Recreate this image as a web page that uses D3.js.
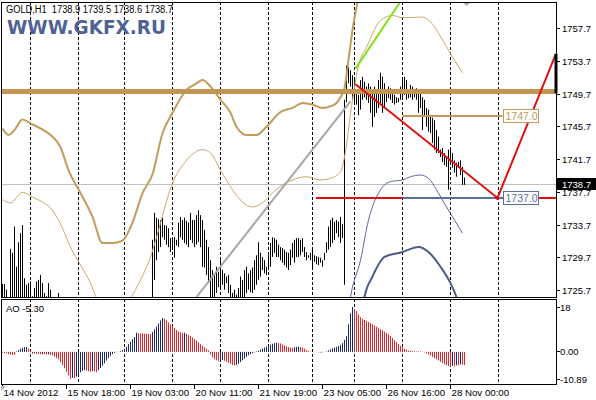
<!DOCTYPE html>
<html lang="en">
<head>
<meta charset="UTF-8">
<title>GOLD,H1</title>
<script src="https://d3js.org/d3.v7.min.js"></script>
<style>
  body { margin: 0; background: #fff; }
  svg text { font-family: "Liberation Sans", Arial, sans-serif; font-size: 10px; fill: #000; }
</style>
</head>
<body>
<svg id="chart" width="596" height="400"></svg>
<script>
// price bars (H1), one per 2px, left to right
const barHigh = [
  1726.5,1726.5,1725.8,1724.6,1730.8,1730.3,1733.5,1728.6,1731.6,1732.7,1733.7,1727.2,1726.4,1726.6,1726.8,1725.0,1726.0,1726.8,1727.0,1727.6,
  1726.6,1725.4,1725.0,1726.6,1725.8,1724.5,1724.2,1724.6,1725.4,
  1724.1,1723.6,1722.9,1722.2,1721.5,1720.8,1720.1,1719.6,1719.9,1720.4,1720.0,1719.5,1719.2,1719.8,1720.3,1720.9,1721.4,1720.7,1720.2,1719.8,
  1720.5,1721.1,1721.6,1721.2,1720.8,1721.3,1721.9,1722.4,1722.0,1721.5,1721.1,1721.7,1722.3,1722.8,1723.2,1722.7,1722.1,1722.6,1723.1,1723.5,
  1723.0,1722.5,1723.2,1723.8,1724.2,1724.4,
  1731.9,1735.2,1734.6,1734.4,1734.3,1734.6,1733.7,1733.6,1733.3,1732.1,1731.9,1732.2,1731.9,1734.0,1734.7,1734.3,1734.6,1734.2,1734.0,1735.2,
  1734.3,1734.3,1734.9,1735.5,1734.9,1734.3,1733.1,1731.9,1731.0,1729.4,1728.2,1727.8,1728.6,1728.0,1729.4,1728.2,1727.8,1727.4,1727.6,1726.4,
  1725.4,1725.8,1725.2,1726.0,1727.4,1727.0,1728.2,1728.6,1727.8,1728.2,1728.5,1729.4,1730.0,1731.6,1730.3,1729.8,1729.4,1728.6,1730.0,1731.5,
  1732.2,1732.1,1731.9,1731.3,1731.0,1730.9,1730.7,1730.4,1730.3,1730.7,1731.5,1731.9,1732.1,1732.1,1731.9,1732.1,1731.0,1730.4,1730.0,1730.3,
  1730.7,1730.0,1729.9,1729.8,1729.7,1729.4,1730.3,1731.6,1733.5,1734.3,1734.6,1734.1,1734.3,1734.1,1734.7,1733.8,1749.0,
  1753.2,1753.0,1752.6,1752.0,1751.4,1750.2,1749.6,1751.4,1751.8,1751.2,1750.6,1751.0,1750.6,1749.8,1750.6,1749.8,1751.4,1752.3,1751.8,1751.0,
  1749.9,1750.6,1750.4,1749.8,1749.6,1749.3,1749.2,1750.6,1751.7,1751.8,1751.4,1750.2,1750.8,1750.6,1750.2,1750.4,1750.2,1750.2,1749.3,1749.0,
  1748.0,1747.8,1746.9,1746.8,1746.5,1745.3,1744.5,1742.9,1743.1,1742.5,1742.0,1742.9,1742.9,1742.5,1741.6,1741.3,1741.4,1741.6,1740.8,1739.5
];
const barLow = [
  1722.1,1721.8,1722.4,1721.5,1722.0,1723.1,1722.6,1721.9,1722.8,1723.4,1721.7,1721.2,1722.3,1721.6,1722.0,1721.4,1720.8,1721.5,1722.1,1721.0,
  1720.6,1721.3,1720.9,1721.8,1722.2,1721.1,1720.5,1720.2,1720.9,
  1722.6,1722.0,1721.3,1720.7,1720.0,1719.4,1718.7,1718.2,1718.5,1718.9,1718.6,1718.1,1717.8,1718.3,1718.9,1719.4,1719.9,1719.3,1718.8,1718.4,
  1719.0,1719.6,1720.1,1719.8,1719.4,1719.8,1720.4,1720.9,1720.6,1720.1,1719.7,1720.2,1720.8,1721.3,1721.7,1721.2,1720.7,1721.1,1721.6,1722.0,
  1721.6,1721.1,1721.7,1722.3,1722.7,1722.9,
  1724.8,1727.0,1729.4,1730.4,1731.0,1732.2,1731.9,1731.3,1731.0,1730.4,1730.7,1729.7,1731.2,1731.0,1732.2,1731.9,1731.5,1731.3,1731.0,1731.9,
  1731.5,1731.0,1731.3,1731.6,1731.0,1728.6,1728.5,1727.6,1726.6,1724.8,1724.8,1724.8,1725.4,1726.1,1726.0,1726.4,1725.8,1726.6,1725.4,1724.8,
  1724.6,1724.6,1724.5,1724.6,1724.6,1724.6,1724.6,1725.4,1725.8,1725.5,1725.4,1725.8,1726.4,1727.0,1727.4,1728.2,1727.8,1727.6,1728.2,1728.6,
  1729.8,1730.3,1729.8,1729.8,1729.4,1729.1,1728.8,1728.5,1728.2,1728.8,1729.7,1729.1,1729.8,1729.8,1730.0,1730.4,1729.8,1729.4,1729.7,1729.4,
  1728.2,1729.2,1728.9,1728.8,1729.1,1728.6,1729.4,1730.3,1730.7,1731.0,1731.5,1731.9,1732.7,1732.2,1731.5,1732.1,1726.4,
  1748.7,1751.0,1750.6,1749.0,1748.7,1748.4,1747.1,1747.8,1749.0,1749.3,1749.0,1748.6,1747.4,1745.7,1746.9,1747.4,1748.0,1748.6,1747.4,1748.1,
  1748.7,1749.2,1749.0,1748.6,1748.4,1748.6,1748.7,1749.0,1749.3,1749.6,1749.0,1749.2,1749.3,1749.0,1749.3,1749.0,1747.4,1748.0,1745.3,1746.9,
  1745.7,1745.1,1744.9,1743.7,1742.9,1742.5,1742.5,1742.0,1741.4,1741.0,1740.8,1738.0,1741.0,1740.7,1740.1,1739.6,1740.7,1739.8,1738.6,1738.6
];

// Awesome Oscillator, one value per bar
const aoValues = [
  -0.3,-0.5,-0.6,-0.9,-1.1,-1.2,-1.25,0.2,0.7,1.2,1.6,1.9,2.0,1.4,0.5,-0.7,-0.6,-0.8,-0.9,-1.0,
  -0.9,-1.0,-1.1,-1.0,-1.2,-1.4,-1.9,-2.5,-3.0,-4.1,-5.3,-6.6,-8.0,-9.5,-10.89,-10.4,-10.6,-9.9,-9.0,-8.2,
  -7.6,-7.3,-7.5,-7.8,-8.0,-7.6,-7.9,-8.2,-7.4,-6.5,-5.6,-4.6,-3.5,-2.5,-1.6,-0.9,-0.4,-0.1,0.1,0.3,
  0.7,1.3,2.1,3.1,4.1,5.1,5.9,7.7,7.5,7.4,7.4,7.3,7.3,7.2,7.2,8.0,9.0,10.2,11.4,12.6,
  13.6,13.3,12.6,11.8,11.0,10.2,9.5,8.8,8.2,7.9,7.6,7.7,7.3,6.8,6.3,5.7,5.1,4.5,3.8,3.1,
  2.5,1.8,1.2,0.6,-1.0,-2.2,-3.0,-3.4,-3.6,-3.5,-3.3,-3.6,-4.0,-4.4,-4.8,-5.2,-5.5,-5.3,-4.8,-4.1,
  -3.4,-2.7,-2.0,-1.4,-0.9,-0.5,-0.2,0.2,0.5,0.9,1.3,1.7,2.1,2.5,2.9,3.2,3.5,3.7,3.6,3.4,
  3.0,2.6,2.2,1.9,1.7,1.6,1.8,2.0,2.1,2.0,1.7,1.3,0.8,0.4,0.1,0.0,0.0,-0.1,-0.2,-0.3,
  -0.2,0.0,0.2,0.6,1.0,1.4,1.7,2.0,2.3,2.8,3.5,4.8,6.3,11.0,15.5,18.0,17.3,16.4,15.0,13.9,
  13.2,12.8,12.4,12.0,11.6,11.1,10.6,10.1,9.6,9.1,8.6,8.1,7.6,7.0,6.3,5.5,4.7,3.9,3.1,2.4,
  1.8,1.3,0.9,0.6,0.45,0.35,0.3,0.25,0.2,0.15,0.1,-0.2,-0.6,-1.0,-1.5,-2.0,-2.5,-3.0,-3.5,-4.0,
  -4.5,-5.0,-5.4,-5.7,-5.9,-5.6,-5.8,-5.4,-5.5,-5.0,-5.2,-5.30
];

// indicator lines as [bar, price]
const tanThick = [[0,1745.5],[3,1744.7],[6,1745.3],[10,1746.6],[14,1746.1],[19,1745.5],[24,1744.7],[29,1743.2],[33,1740.4],
  [39,1737.6],[45,1734.7],[50,1731.5],[55,1731.5],[60,1731.8],[65,1734.0],[70,1737.6],[75,1739.9],[80,1744.9],[85,1747.4],
  [92,1750.2],[97,1751.0],[100,1751.4],[104,1750.6],[109,1749.0],[114,1747.4],[117,1745.7],[122,1744.7],[127,1744.7],
  [132,1745.7],[139,1747.5],[145,1748.0],[150,1748.6],[155,1748.4],[160,1748.0],[164,1748.2],[167,1748.6],[169,1749.3],
  [171,1750.4],[173,1753.9],[175,1757.5],[178,1761.5]];
const tanThin = [[0,1736.8],[4,1736.4],[10,1737.7],[15,1737.1],[20,1736.5],[25,1735.5],[30,1733.3],[34,1731.0],[39,1728.8],
  [44,1726.6],[47,1724.8],[55,1722.9],[64,1724.8],[69,1727.0],[74,1729.8],[77,1732.2],[85,1738.8],[92,1741.6],[100,1742.9],
  [104,1742.5],[109,1740.4],[115,1738.0],[120,1736.5],[125,1735.9],[130,1736.4],[135,1737.6],[140,1738.6],[145,1739.2],
  [152,1739.6],[159,1739.2],[164,1739.4],[169,1740.2],[171,1742.0],[175,1749.0],[178,1753.2],[182,1755.4],[189,1758.7],
  [195,1759.3],[200,1759.0],[210,1759.1],[214,1758.5],[220,1756.3],[225,1754.2],[230,1752.3]];
const blueThin = [[172,1721.5],[174,1724.9],[179,1729.4],[183,1734.3],[189,1738.0],[194,1739.0],[200,1739.2],[204,1739.6],
  [209,1739.8],[213,1739.4],[217,1738.0],[222,1735.9],[226,1734.3],[230,1732.7]];
const blueThick = [[179,1721.0],[181,1724.9],[185,1727.4],[191,1729.8],[200,1730.4],[208,1731.0],[213,1730.4],[219,1728.6],
  [224,1726.6],[227,1724.9],[230,1722.5]];

// drawn objects
const greenTrend = [[176.5,1752.8],[199,1761.0]];
const grayTrend = [[97,1724.9],[174,1748.8]];
const redTrend = [[176.5,1750.9],[247.5,1737.0],[276.7,1754.6]];
const bigLevel = 1750.0;
const bidPrice = 1738.7;
const redLevel = { price: 1737.0, from: 156.75 };
const boxLevels = [
  { price: 1747.0, from: 200, to: 250, color: "#c39a58", text: "1747.0" },
  { price: 1737.0, from: 200, to: 250, color: "#5b6f9e", text: "1737.0" }
];

// axes
const priceTicks = [1757.7, 1753.7, 1749.7, 1745.7, 1741.7, 1737.7, 1733.7, 1729.7, 1725.7];
const aoTicks = [18, 0, -10.89];
const aoTickLabels = ["18", "0.00", "-10.89"];
const timeTickBars = [0, 32, 64, 96, 128, 160, 192, 224];
const timeTickLabels = ["14 Nov 2012", "15 Nov 18:00", "19 Nov 03:00", "20 Nov 11:00", "21 Nov 19:00", "23 Nov 05:00", "26 Nov 16:00", "28 Nov 00:00"];
const gridBars = [14, 38, 61, 85, 109, 133, 155, 176, 200, 224, 248];

const svg = d3.select("#chart");
const L = 1, R = 556, mainTop = 2, mainBottom = 297, subTop = 299, subBottom = 384;

const x = d3.scaleLinear().domain([0, 231]).range([2.5, 464.5]);
const y = d3.scaleLinear().domain([1725.7, 1757.7]).range([290.5, 28.5]);
const yAo = d3.scaleLinear().domain([-10.89, 18]).range([379, 307]);
const crisp = v => Math.round(v - 0.5) + 0.5;

svg.append("rect").attr("width", 596).attr("height", 400).attr("fill", "#fff");

const defs = svg.append("defs");
defs.append("clipPath").attr("id", "clipMain").append("rect")
  .attr("x", L + 1).attr("y", mainTop + 1).attr("width", R - L - 1).attr("height", mainBottom - mainTop - 1);
defs.append("clipPath").attr("id", "clipSub").append("rect")
  .attr("x", L + 1).attr("y", subTop + 1).attr("width", R - L - 1).attr("height", subBottom - subTop - 1);

// dashed vertical grid
const grid = svg.append("g").attr("stroke", "#000").attr("stroke-dasharray", "3,2");
gridBars.forEach(b => {
  grid.append("line").attr("x1", x(b)).attr("x2", x(b)).attr("y1", mainTop).attr("y2", mainBottom);
  grid.append("line").attr("x1", x(b)).attr("x2", x(b)).attr("y1", subTop).attr("y2", subBottom);
});

const main = svg.append("g").attr("clip-path", "url(#clipMain)");

// bid line
main.append("line").attr("x1", L).attr("x2", R)
  .attr("y1", crisp(y(bidPrice))).attr("y2", crisp(y(bidPrice))).attr("stroke", "#c0c0c0");

// price bars
main.append("g").selectAll("line").data(barHigh).join("line")
  .attr("x1", (d, i) => x(i)).attr("x2", (d, i) => x(i))
  .attr("y1", d => y(d)).attr("y2", (d, i) => y(barLow[i]))
  .attr("stroke", "#000");

// indicator lines
const line = d3.line().x(d => x(d[0])).y(d => y(d[1])).curve(d3.curveMonotoneX);
main.append("path").datum(tanThin).attr("d", line).attr("fill", "none").attr("stroke", "#c9a86e").attr("stroke-width", 1);
main.append("path").datum(tanThick).attr("d", line).attr("fill", "none").attr("stroke", "#c29c5c").attr("stroke-width", 2);
main.append("path").datum(blueThin).attr("d", line).attr("fill", "none").attr("stroke", "#5b6a96").attr("stroke-width", 1);
main.append("path").datum(blueThick).attr("d", line).attr("fill", "none").attr("stroke", "#4c5b87").attr("stroke-width", 2);

// objects
const straight = d3.line().x(d => x(d[0])).y(d => y(d[1]));
main.append("line").attr("x1", L).attr("x2", R).attr("y1", y(bigLevel)).attr("y2", y(bigLevel))
  .attr("stroke", "#c09652").attr("stroke-width", 5);
main.append("path").datum(grayTrend).attr("d", straight).attr("stroke", "#a6a6a6").attr("stroke-width", 2).attr("fill", "none");
main.append("path").datum(greenTrend).attr("d", straight).attr("stroke", "#86e01e").attr("stroke-width", 2).attr("fill", "none");
main.append("line").attr("x1", x(redLevel.from)).attr("x2", R)
  .attr("y1", y(redLevel.price)).attr("y2", y(redLevel.price)).attr("stroke", "#e01010").attr("stroke-width", 2);
boxLevels.forEach(b => {
  main.append("line").attr("x1", x(b.from)).attr("x2", x(b.to))
    .attr("y1", y(b.price)).attr("y2", y(b.price)).attr("stroke", b.color).attr("stroke-width", 2);
});
main.append("path").datum(redTrend).attr("d", straight).attr("stroke", "#e01010").attr("stroke-width", 2).attr("fill", "none");
main.append("circle").attr("cx", x(redTrend[1][0])).attr("cy", y(redTrend[1][1])).attr("r", 2).attr("fill", "#e01010");

boxLevels.forEach(b => {
  const yy = Math.round(y(b.price));
  svg.append("rect").attr("x", x(b.to) + 1).attr("y", yy - 6.5).attr("width", 35).attr("height", 13)
    .attr("fill", "#fff").attr("stroke", b.color);
  svg.append("text").attr("x", x(b.to) + 3).attr("y", yy + 4).style("fill", b.color).style("font-size", "10.5px").text(b.text);
});

// chart-shift marker
svg.append("path").attr("d", `M${x(230)},2 L${x(234)},2 L${x(232)},6 Z`).attr("fill", "#a8a8a8");

// AO histogram
const sub = svg.append("g").attr("clip-path", "url(#clipSub)");
sub.append("g").selectAll("line").data(aoValues).join("line")
  .attr("x1", (d, i) => x(i)).attr("x2", (d, i) => x(i))
  .attr("y1", yAo(0)).attr("y2", d => yAo(d))
  .attr("stroke", (d, i) => (i > 0 && d > aoValues[i - 1]) ? "#1b2862" : "#e0282c");

// frames
svg.append("rect").attr("x", L + 0.5).attr("y", mainTop + 0.5).attr("width", R - L).attr("height", mainBottom - mainTop)
  .attr("fill", "none").attr("stroke", "#000");
svg.append("rect").attr("x", L + 0.5).attr("y", subTop + 0.5).attr("width", R - L).attr("height", subBottom - subTop)
  .attr("fill", "none").attr("stroke", "#000");

// black bar at the right edge where the red line ends
svg.append("rect").attr("x", R - 1.5).attr("y", y(redTrend[2][1])).attr("width", 3)
  .attr("height", y(1749.8) - y(redTrend[2][1])).attr("fill", "#000");

// price axis
const pa = svg.append("g");
priceTicks.forEach(p => {
  const yy = crisp(y(p));
  pa.append("line").attr("x1", R).attr("x2", R + 4).attr("y1", yy).attr("y2", yy).attr("stroke", "#000");
  pa.append("text").attr("x", 562).attr("y", yy + 3.5).style("font-size", "9.5px").text(p.toFixed(1));
});
const bidY = Math.round(y(bidPrice));
svg.append("rect").attr("x", R + 1).attr("y", bidY - 6).attr("width", 596 - R - 1).attr("height", 12).attr("fill", "#000");
svg.append("text").attr("x", 562).attr("y", bidY + 3.5).style("fill", "#fff").style("font-size", "9.5px").text(bidPrice.toFixed(1));

// AO axis
aoTicks.forEach((v, k) => {
  const yy = crisp(yAo(v));
  svg.append("line").attr("x1", R).attr("x2", R + 4).attr("y1", yy).attr("y2", yy).attr("stroke", "#000");
  svg.append("text").attr("x", 560).attr("y", yy + 3.5).style("font-size", "9.5px").text(aoTickLabels[k]);
});

// time axis
timeTickBars.forEach((b, k) => {
  svg.append("line").attr("x1", x(b)).attr("x2", x(b)).attr("y1", subBottom).attr("y2", subBottom + 5).attr("stroke", "#000");
  svg.append("text").attr("x", x(b) + 1).attr("y", 396).style("font-size", "9.7px").text(timeTickLabels[k]);
});
svg.append("path").attr("d", "M1,386 L6,386 L1,391 Z").attr("fill", "#b0b0b0");

// titles
svg.append("text").attr("x", 6).attr("y", 13).attr("xml:space", "preserve")
  .attr("textLength", 167).attr("lengthAdjust", "spacingAndGlyphs").style("font-size", "10px")
  .text("GOLD,H1  1738.9 1739.5 1738.6 1738.7");
svg.append("text").attr("x", 7).attr("y", 34).attr("textLength", 159).attr("lengthAdjust", "spacingAndGlyphs")
  .style("font-family", "'DejaVu Sans', Verdana, sans-serif").style("font-weight", "bold").style("font-size", "20px")
  .style("fill", "#4f6296").text("WWW.GKFX.RU");
svg.append("text").attr("x", 6).attr("y", 312).style("font-size", "9.5px").text("AO -5.30");
</script>
</body>
</html>
